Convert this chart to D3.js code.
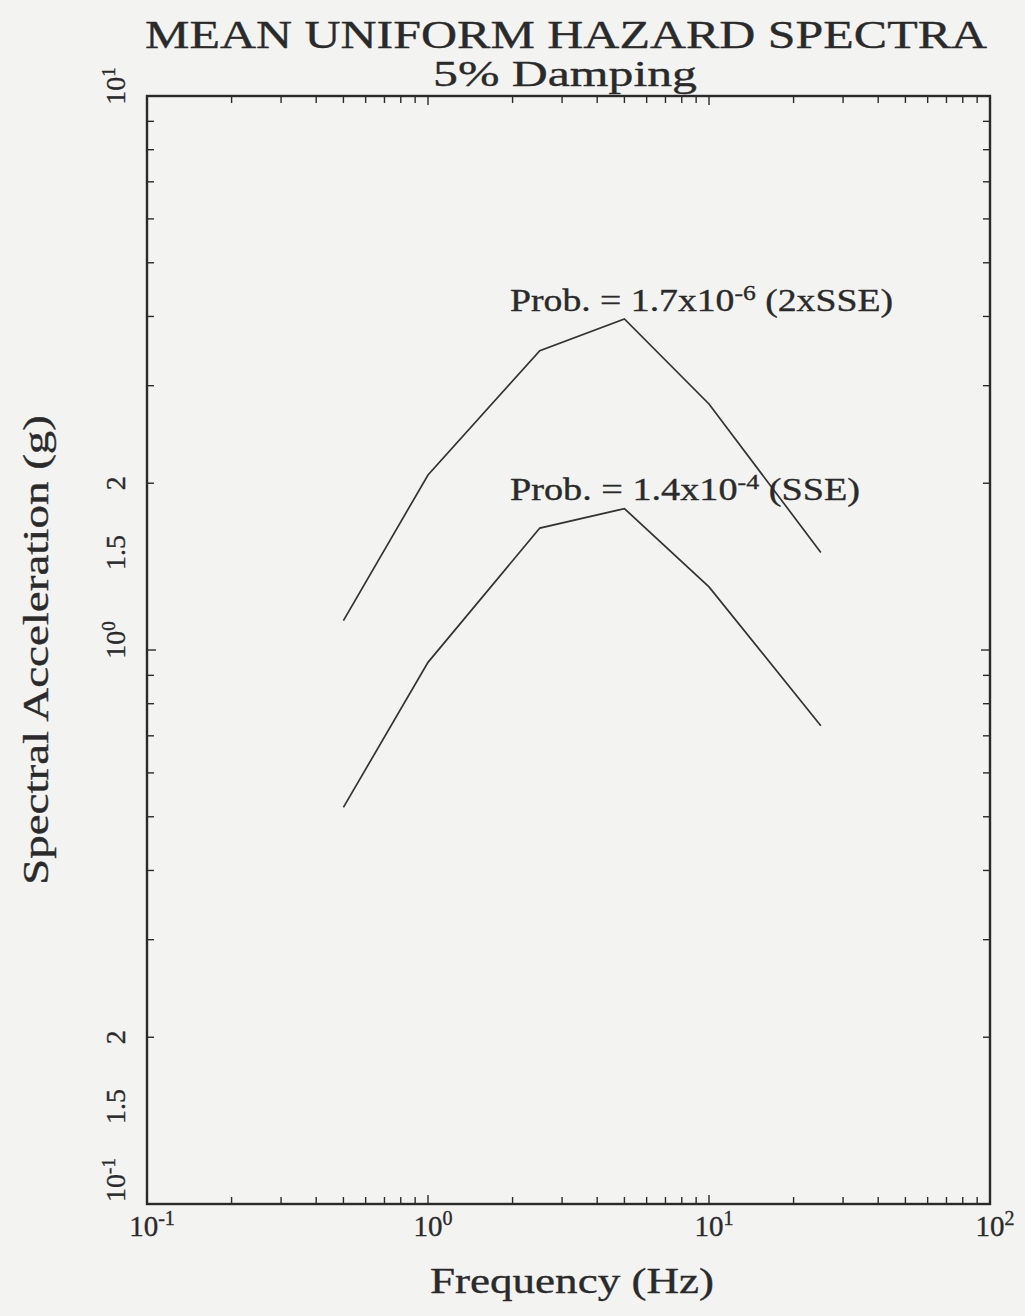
<!DOCTYPE html>
<html>
<head>
<meta charset="utf-8">
<script src="https://cdn.jsdelivr.net/npm/d3@7"></script>
<style>
  body { margin: 0; background: #f3f3f1; }
  svg { display: block; font-family: "Liberation Serif", "DejaVu Serif", serif; }
  text { stroke: #2a2a2a; stroke-width: 0.35px; }
</style>
</head>
<body>
<div id="chart"></div>
<script>
let width = 1025;
let height = 1316;

// spectra
let freqs = [0.5, 1, 2.5, 5, 10, 25];
let upperSa = [1.13, 2.07, 3.47, 3.96, 2.78, 1.50];
let lowerSa = [0.52, 0.95, 1.66, 1.80, 1.30, 0.73];

let xMajor = [0.1, 1, 10, 100];
let xMajorExp = ["-1", "0", "1", "2"];
let yLabels = [
  {v: 0.1, base: "10", sup: "-1"},
  {v: 0.15, base: "1.5", sup: ""},
  {v: 0.2, base: "2", sup: ""},
  {v: 1, base: "10", sup: "0"},
  {v: 1.5, base: "1.5", sup: ""},
  {v: 2, base: "2", sup: ""},
  {v: 10, base: "10", sup: "1"}
];

let margin = {left: 147, right: 1025 - 990, top: 96, bottom: 1316 - 1204};

let svg = d3.select("#chart").append("svg")
            .attr("width", width)
            .attr("height", height);

let x = d3.scaleLog().domain([0.1, 100]).range([margin.left, width - margin.right]);
let y = d3.scaleLog().domain([0.1, 10]).range([height - margin.bottom, margin.top]);

// tick values 1..9 x 10^k
function logTicks(lo, hi) {
  let out = [];
  for (let e = Math.log10(lo); e < Math.log10(hi); e++) {
    for (let m = 1; m < 10; m++) out.push(m * Math.pow(10, e));
  }
  out.push(hi);
  return out;
}
let xt = logTicks(0.1, 100);
let yt = logTicks(0.1, 10);

let ink = "#2a2a2a";

// frame
svg.append("rect")
   .attr("x", x(0.1)).attr("y", y(10))
   .attr("width", x(100) - x(0.1))
   .attr("height", y(0.1) - y(10))
   .attr("fill", "none").attr("stroke", ink).attr("stroke-width", 2.4);

function tickLen(v) {
  let l = Math.log10(v);
  return Math.abs(l - Math.round(l)) < 1e-9 ? 9 : 7;
}

// inward ticks on all four sides
svg.append("g").selectAll("line").data(xt).join("line")
   .attr("x1", d => x(d)).attr("x2", d => x(d))
   .attr("y1", y(0.1)).attr("y2", d => y(0.1) - tickLen(d))
   .attr("stroke", ink).attr("stroke-width", 1.4);
svg.append("g").selectAll("line").data(xt).join("line")
   .attr("x1", d => x(d)).attr("x2", d => x(d))
   .attr("y1", y(10)).attr("y2", d => y(10) + tickLen(d))
   .attr("stroke", ink).attr("stroke-width", 1.4);
svg.append("g").selectAll("line").data(yt).join("line")
   .attr("y1", d => y(d)).attr("y2", d => y(d))
   .attr("x1", x(0.1)).attr("x2", d => x(0.1) + tickLen(d))
   .attr("stroke", ink).attr("stroke-width", 1.4);
svg.append("g").selectAll("line").data(yt).join("line")
   .attr("y1", d => y(d)).attr("y2", d => y(d))
   .attr("x1", x(100)).attr("x2", d => x(100) - tickLen(d))
   .attr("stroke", ink).attr("stroke-width", 1.4);

// x tick labels
let xl = svg.append("g").selectAll("text").data(xMajor).join("text")
   .attr("x", d => x(d) + 5)
   .attr("y", y(0.1) + 32)
   .attr("text-anchor", "middle")
   .attr("font-size", 29)
   .attr("fill", ink);
xl.append("tspan").text("10");
xl.append("tspan").attr("dy", -11).attr("font-size", 20).text((d, i) => xMajorExp[i]);

// y tick labels, rotated
let yl = svg.append("g").selectAll("text").data(yLabels).join("text")
   .attr("transform", d => `translate(${x(0.1) - 22},${y(d.v) - (d.sup === "-1" ? 24 : d.sup ? 10 : 0)}) rotate(-90)`)
   .attr("text-anchor", "middle")
   .attr("font-size", 28)
   .attr("fill", ink);
yl.append("tspan").text(d => d.base);
yl.append("tspan").attr("dy", -10).attr("font-size", 19).text(d => d.sup);

// spectra
let line = d3.line().x(d => x(d[0])).y(d => y(d[1]));
[upperSa, lowerSa].forEach(s => {
  svg.append("path")
     .datum(freqs.map((f, i) => [f, s[i]]))
     .attr("d", line)
     .attr("fill", "none")
     .attr("stroke", "#333")
     .attr("stroke-width", 1.7);
});

// annotations
function prob(px, py, mant, exp, tail, w) {
  let t = svg.append("text").attr("x", px).attr("y", py)
             .attr("font-size", 31).attr("fill", ink)
             .attr("textLength", w).attr("lengthAdjust", "spacingAndGlyphs");
  t.append("tspan").text("Prob. = " + mant + "x10");
  t.append("tspan").attr("dy", -11).attr("font-size", 21).text(exp);
  t.append("tspan").attr("dy", 11).text("  " + tail);
}
prob(510, 311, "1.7", "-6", "(2xSSE)", 383);
prob(510, 500, "1.4", "-4", "(SSE)", 350);

// titles
function label(txt, px, py, size, w, rot) {
  svg.append("text")
     .attr("transform", `translate(${px},${py})` + (rot ? " rotate(-90)" : ""))
     .attr("text-anchor", "middle").attr("font-size", size).attr("fill", ink)
     .attr("textLength", w).attr("lengthAdjust", "spacingAndGlyphs")
     .text(txt);
}
label("MEAN UNIFORM HAZARD SPECTRA", 566, 48, 40, 842);
label("5% Damping", 565, 86, 36, 264);
label("Frequency  (Hz)", 572, 1293, 36, 284);
label("Spectral  Acceleration  (g)", 48, 650, 36, 470, true);
</script>
</body>
</html>
